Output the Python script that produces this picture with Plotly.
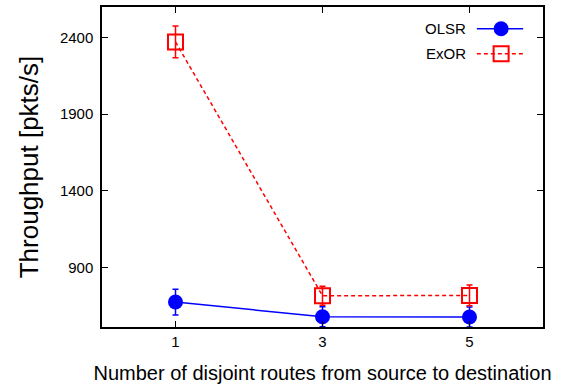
import plotly.graph_objects as go

routes = [1, 3, 5]
olsr = [673, 577, 575]
olsr_err = [84, 65, 65]
exor = [2372, 714, 716]
exor_err = [104, 62, 68]
yticks = [900, 1400, 1900, 2400]
xticks = [1, 3, 5]

FONT = "Liberation Sans, Arial, Helvetica, sans-serif"
BLUE = "#0000ff"
RED = "#ff0000"

fig = go.Figure()

fig.add_trace(go.Scatter(
    x=routes, y=olsr, mode="lines+markers", name="OLSR",
    line=dict(color=BLUE, width=1.5),
    marker=dict(symbol="circle", size=15, color=BLUE),
    error_y=dict(type="data", array=olsr_err, color=BLUE, thickness=1.5, width=3),
    showlegend=False,
))
fig.add_trace(go.Scatter(
    x=routes, y=exor, mode="lines+markers", name="ExOR",
    line=dict(color=RED, width=1.5, dash="4px,3px"),
    marker=dict(symbol="square-open", size=15, color=RED, line=dict(width=2, color=RED)),
    error_y=dict(type="data", array=exor_err, color=RED, thickness=1.5, width=3),
    showlegend=False,
))

# gnuplot-style key: label then sample on the right
key_y = [0.932, 0.854]
key_x = [0.850, 0.955]
key_m = 0.905
fig.add_trace(go.Scatter(
    x=key_x, y=[key_y[0]] * 2, mode="lines", xaxis="x2", yaxis="y2",
    line=dict(color=BLUE, width=1.5), showlegend=False, hoverinfo="skip"))
fig.add_trace(go.Scatter(
    x=[key_m], y=[key_y[0]], mode="markers", xaxis="x2", yaxis="y2",
    marker=dict(symbol="circle", size=15, color=BLUE), showlegend=False, hoverinfo="skip"))
fig.add_trace(go.Scatter(
    x=key_x, y=[key_y[1]] * 2, mode="lines", xaxis="x2", yaxis="y2",
    line=dict(color=RED, width=1.5, dash="4px,3px"), showlegend=False, hoverinfo="skip"))
fig.add_trace(go.Scatter(
    x=[key_m], y=[key_y[1]], mode="markers", xaxis="x2", yaxis="y2",
    marker=dict(symbol="square-open", size=15, color=RED, line=dict(width=2, color=RED)),
    showlegend=False, hoverinfo="skip"))

for name, yy in zip(["OLSR", "ExOR"], key_y):
    fig.add_annotation(x=0.830, y=yy, xref="paper", yref="paper", text=name,
                       showarrow=False, xanchor="right", yanchor="middle",
                       font=dict(family=FONT, size=15, color="black"))

axis_common = dict(
    showgrid=False, zeroline=False, showline=True, linecolor="black", linewidth=1.5,
    mirror="allticks", ticks="inside", ticklen=6, tickwidth=1, tickcolor="black",
    tickfont=dict(family=FONT, size=15, color="black"),
)

fig.update_layout(
    width=568, height=390,
    margin=dict(l=102, r=25, t=5, b=63),
    paper_bgcolor="white", plot_bgcolor="white",
    xaxis=dict(range=[0, 6], tickvals=xticks, ticktext=[str(v) for v in xticks],
               title=dict(text="Number of disjoint routes from source to destination",
                          font=dict(family=FONT, size=20, color="black"), standoff=17),
               **axis_common),
    yaxis=dict(range=[510, 2600], tickvals=yticks, ticktext=[str(v) for v in yticks],
               ticklabelstandoff=4,
               title=dict(text="Throughput [pkts/s]",
                          font=dict(family=FONT, size=26, color="black"), standoff=14),
               **axis_common),
    xaxis2=dict(range=[0, 1], overlaying="x", visible=False, fixedrange=True),
    yaxis2=dict(range=[0, 1], overlaying="y", visible=False, fixedrange=True),
)

fig.write_html("out.html")
